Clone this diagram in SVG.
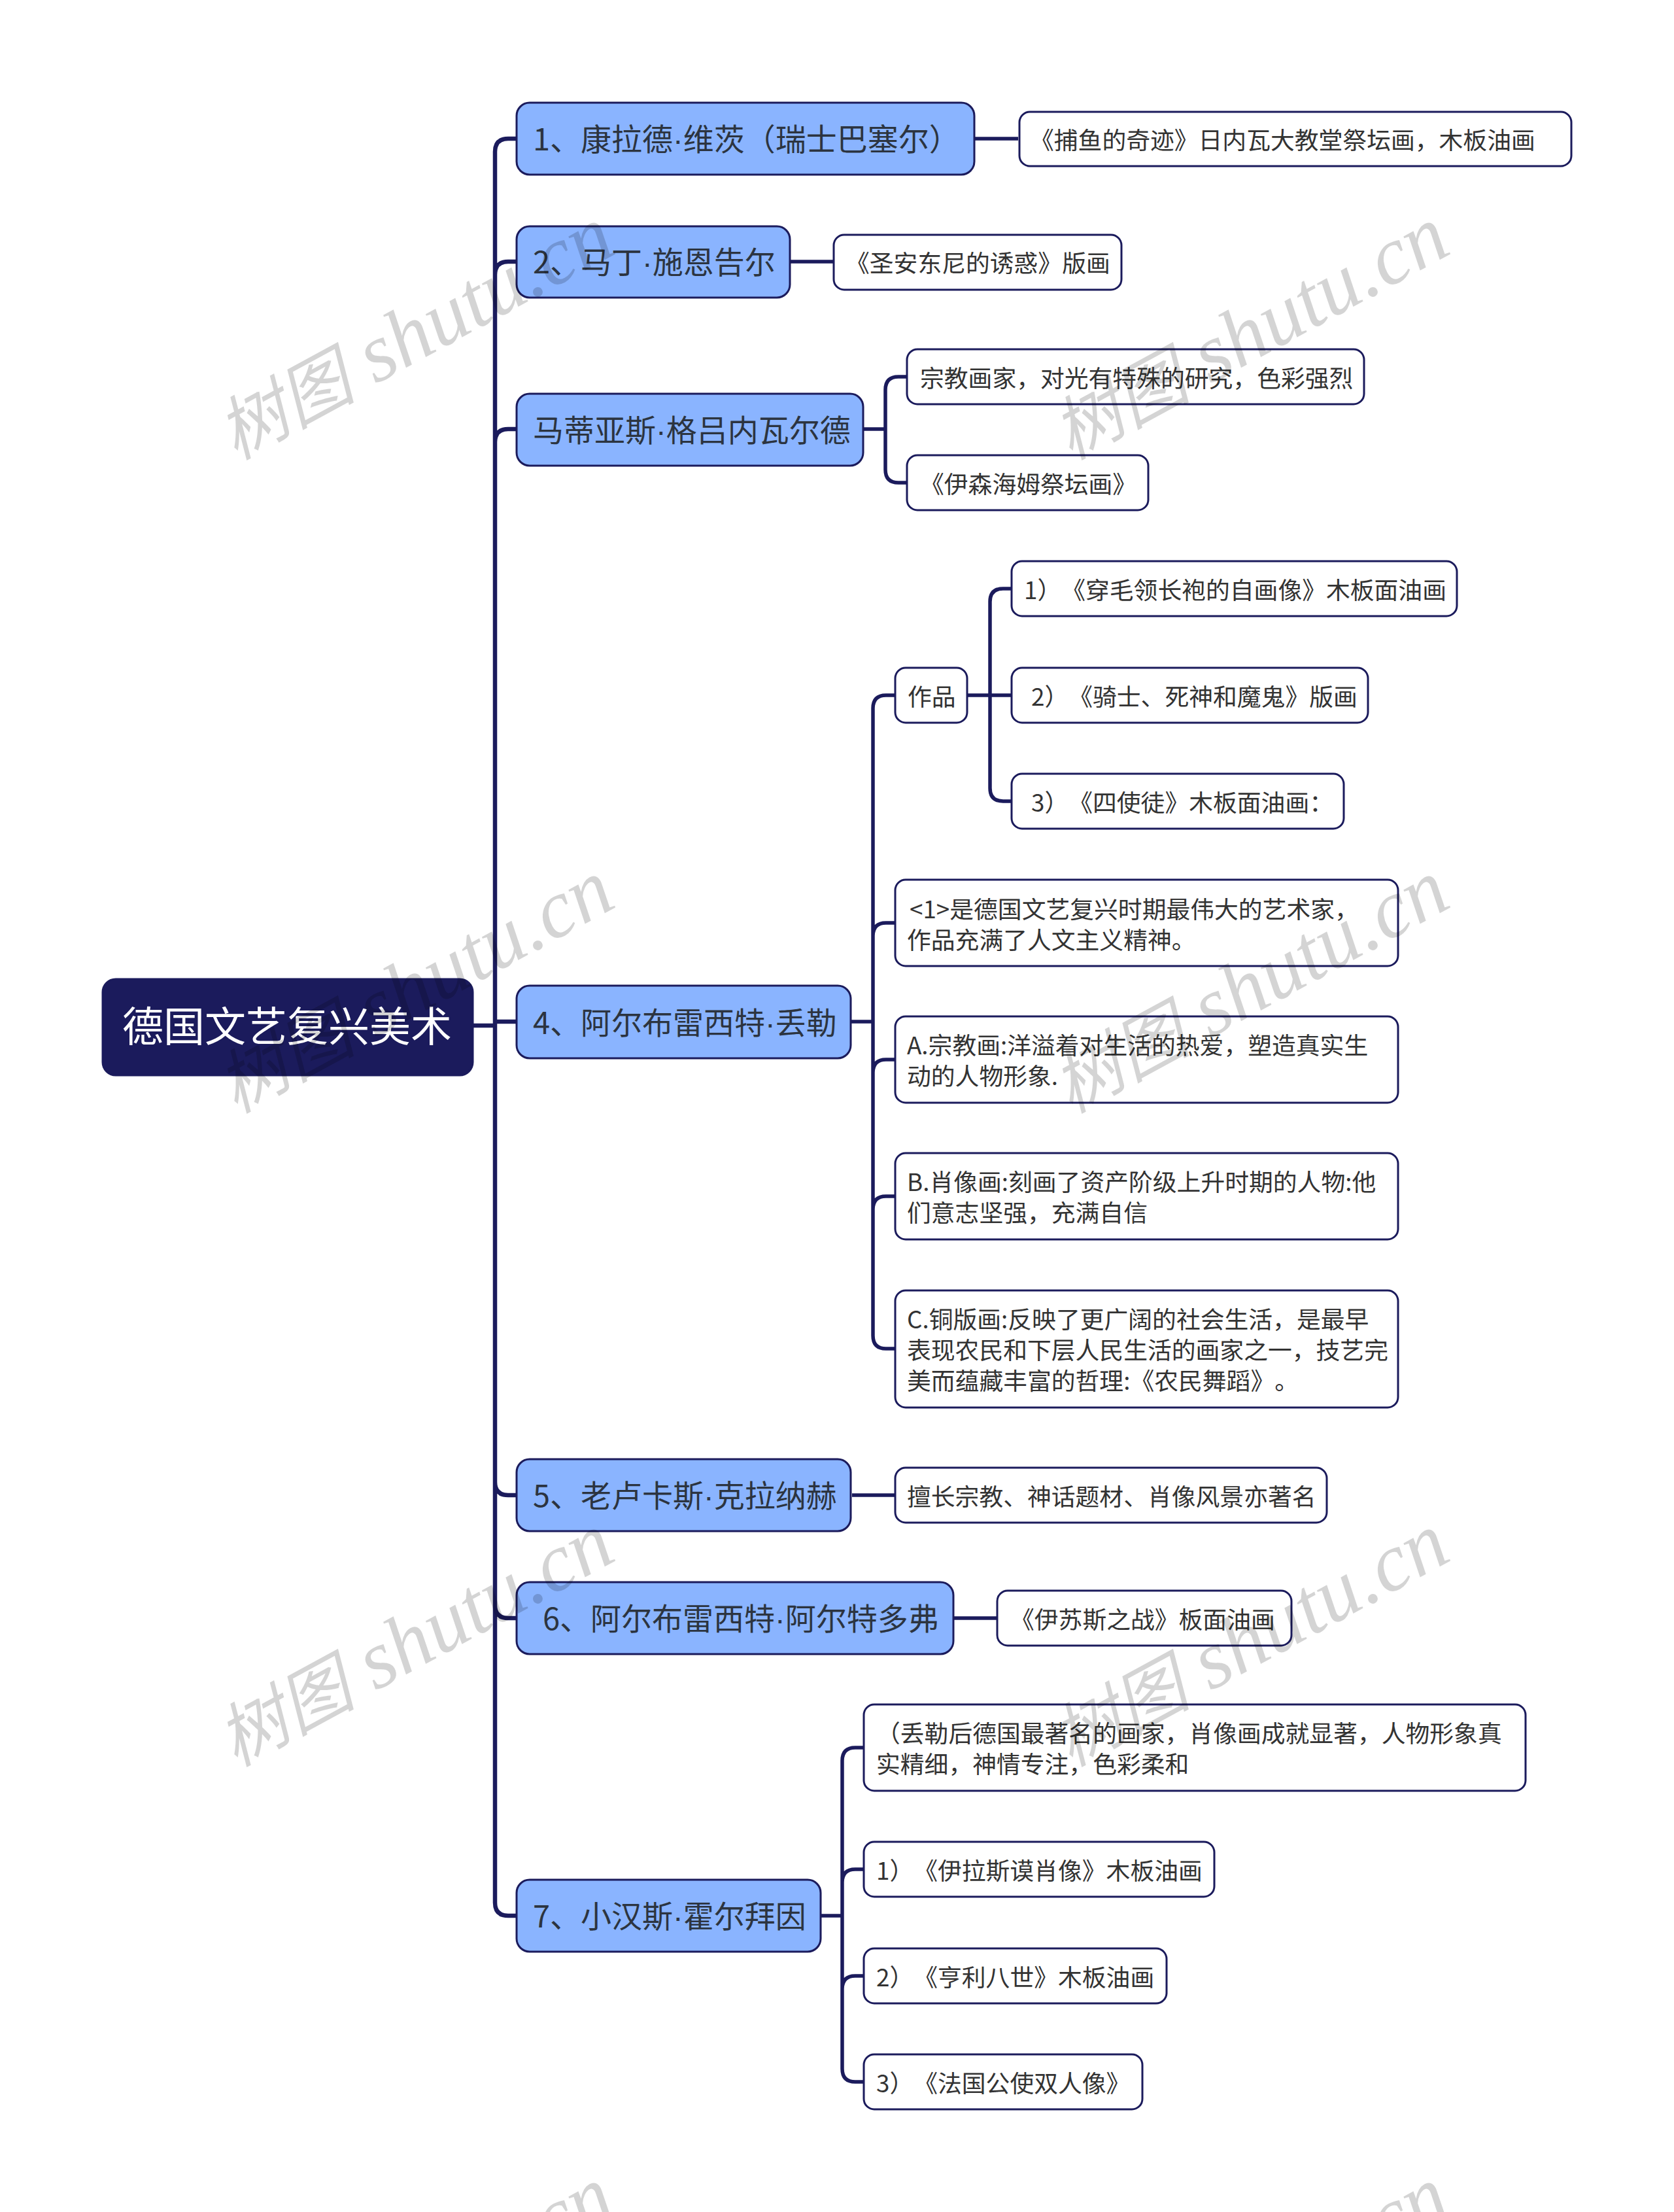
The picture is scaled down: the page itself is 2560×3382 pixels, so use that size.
<svg xmlns="http://www.w3.org/2000/svg" width="2560" height="3382" viewBox="0 0 2560 3382">
<style>
text{font-family:"Noto Sans CJK SC","Noto Sans",sans-serif;white-space:pre;text-spacing-trim:space-all;font-feature-settings:"chws" 0,"palt" 0,"halt" 0}
.dot{font-family:"Liberation Sans",sans-serif}
.root{fill:#1b1b5c;stroke:#1b1b5c;stroke-width:3}
.l1{fill:#8ab4ff;stroke:#1b1b5c;stroke-width:3}
.l2{fill:#fff;stroke:#1b1b5c;stroke-width:3}
.tr{font-size:63px;fill:#fff}
.t1{font-size:47px;fill:#2c3440}
.t2{font-size:36.8px;fill:#333}
.c{fill:none;stroke:#1b1b5c;stroke-width:6.5}
.d{fill:none;stroke:#1b1b5c;stroke-width:5.5}
.wm{font-family:"Liberation Serif","Noto Sans CJK SC",serif;font-style:italic;font-size:126px;fill:#000;fill-opacity:.17}
.wc{font-size:106px}
</style>
<rect width="2560" height="3382" fill="#fff"/>
<g id="connectors">
<path class="c" d="M723 1568H757M790 212H777Q757 212 757 232V2909Q757 2929 777 2929H790M790 400H777Q757 400 757 420M790 656H777Q757 656 757 676M757 1562H790M757 2266Q757 2286 777 2286H790M757 2454Q757 2474 777 2474H790"/>
<path class="d" d="M1490 212H1557M1208 400H1275M1321 656H1354M1387 576H1374Q1354 576 1354 596V718Q1354 738 1374 738H1387M1301 1562H1335M1369 1063H1355Q1335 1063 1335 1083V2042Q1335 2062 1355 2062H1369M1369 1411H1355Q1335 1411 1335 1431M1369 1620H1355Q1335 1620 1335 1640M1369 1829H1355Q1335 1829 1335 1849M1479 1063H1547M1547 900H1534Q1514 900 1514 920V1205Q1514 1225 1534 1225H1547M1303 2286H1369M1458 2474H1525M1255 2929H1288M1320 2672H1308Q1288 2672 1288 2692V3163Q1288 3183 1308 3183H1320M1320 2858H1308Q1288 2858 1288 2878M1320 3021H1308Q1288 3021 1288 3041"/>
</g>
<g id="root"><rect class="root" x="157" y="1497" width="566" height="147" rx="20"/><text class="tr" x="187" y="1592">德国文艺复兴美术</text></g>
<g id="n1"><rect class="l1" x="790" y="157" width="700" height="110" rx="20"/><text class="t1" x="815" y="230">1、康拉德<tspan class="dot">·</tspan>维茨（瑞士巴塞尔）</text></g>
<g id="n1a"><rect class="l2" x="1559" y="171" width="844" height="83" rx="16"/><text class="t2" x="1575" y="228">《捕鱼的奇迹》日内瓦大教堂祭坛画，木板油画</text></g>
<g id="n2"><rect class="l1" x="790" y="346" width="418" height="109" rx="20"/><text class="t1" x="815" y="418">2、马丁<tspan class="dot">·</tspan>施恩告尔</text></g>
<g id="n2a"><rect class="l2" x="1275" y="359" width="440" height="84" rx="16"/><text class="t2" x="1293" y="416">《圣安东尼的诱惑》版画</text></g>
<g id="n3"><rect class="l1" x="790" y="602" width="530" height="110" rx="20"/><text class="t1" x="815" y="675">马蒂亚斯<tspan class="dot">·</tspan>格吕内瓦尔德</text></g>
<g id="n3a"><rect class="l2" x="1387" y="534" width="699" height="84" rx="16"/><text class="t2" x="1407" y="592">宗教画家，对光有特殊的研究，色彩强烈</text></g>
<g id="n3b"><rect class="l2" x="1387" y="696" width="369" height="84" rx="16"/><text class="t2" x="1407" y="754">《伊森海姆祭坛画》</text></g>
<g id="n4"><rect class="l1" x="790" y="1507" width="511" height="111" rx="20"/><text class="t1" x="815" y="1581">4、阿尔布雷西特<tspan class="dot">·</tspan>丢勒</text></g>
<g id="n4w"><rect class="l2" x="1369" y="1021" width="110" height="84" rx="16"/><text class="t2" x="1388" y="1079">作品</text></g>
<g id="n4w1"><rect class="l2" x="1547" y="858" width="681" height="84" rx="16"/><text class="t2" x="1566" y="916">1）《穿毛领长袍的自画像》木板面油画</text></g>
<g id="n4w2"><rect class="l2" x="1547" y="1021" width="545" height="84" rx="16"/><text class="t2" x="1577" y="1079">2）《骑士、死神和魔鬼》版画</text></g>
<g id="n4w3"><rect class="l2" x="1547" y="1183" width="508" height="84" rx="16"/><text class="t2" x="1577" y="1241">3）《四使徒》木板面油画：</text></g>
<g id="n4a"><rect class="l2" x="1369" y="1345" width="769" height="132" rx="16"/><text class="t2" x="1391" y="1404">&lt;1&gt;是德国文艺复兴时期最伟大的艺术家，</text><text class="t2" x="1387" y="1451">作品充满了人文主义精神。</text></g>
<g id="n4b"><rect class="l2" x="1369" y="1554" width="769" height="132" rx="16"/><text class="t2" x="1387" y="1612">A.宗教画:洋溢着对生活的热爱，塑造真实生</text><text class="t2" x="1387" y="1659">动的人物形象.</text></g>
<g id="n4c"><rect class="l2" x="1369" y="1763" width="769" height="132" rx="16"/><text class="t2" x="1387" y="1821">B.肖像画:刻画了资产阶级上升时期的人物:他</text><text class="t2" x="1387" y="1868">们意志坚强，充满自信</text></g>
<g id="n4d"><rect class="l2" x="1369" y="1973" width="769" height="179" rx="16"/><text class="t2" x="1387" y="2031">C.铜版画:反映了更广阔的社会生活，是最早</text><text class="t2" x="1387" y="2078">表现农民和下层人民生活的画家之一，技艺完</text><text class="t2" x="1387" y="2125">美而蕴藏丰富的哲理:《农民舞蹈》。</text></g>
<g id="n5"><rect class="l1" x="790" y="2231" width="511" height="110" rx="20"/><text class="t1" x="815" y="2304">5、老卢卡斯<tspan class="dot">·</tspan>克拉纳赫</text></g>
<g id="n5a"><rect class="l2" x="1369" y="2244" width="660" height="84" rx="16"/><text class="t2" x="1387" y="2302">擅长宗教、神话题材、肖像风景亦著名</text></g>
<g id="n6"><rect class="l1" x="790" y="2419" width="668" height="110" rx="20"/><text class="t1" x="830" y="2492">6、阿尔布雷西特<tspan class="dot">·</tspan>阿尔特多弗</text></g>
<g id="n6a"><rect class="l2" x="1525" y="2432" width="450" height="84" rx="16"/><text class="t2" x="1545" y="2490">《伊苏斯之战》板面油画</text></g>
<g id="n7"><rect class="l1" x="790" y="2874" width="465" height="110" rx="20"/><text class="t1" x="815" y="2947">7、小汉斯<tspan class="dot">·</tspan>霍尔拜因</text></g>
<g id="n7a"><rect class="l2" x="1321" y="2606" width="1012" height="132" rx="16"/><text class="t2" x="1340" y="2664">（丢勒后德国最著名的画家，肖像画成就显著，人物形象真</text><text class="t2" x="1340" y="2711">实精细，神情专注，色彩柔和</text></g>
<g id="n7b"><rect class="l2" x="1321" y="2816" width="536" height="84" rx="16"/><text class="t2" x="1340" y="2874">1）《伊拉斯谟肖像》木板油画</text></g>
<g id="n7c"><rect class="l2" x="1321" y="2979" width="463" height="84" rx="16"/><text class="t2" x="1340" y="3037">2）《亨利八世》木板油画</text></g>
<g id="n7d"><rect class="l2" x="1321" y="3141" width="426" height="84" rx="16"/><text class="t2" x="1340" y="3199">3）《法国公使双人像》</text></g>
<g id="watermarks">
<text class="wm" transform="translate(360 704) rotate(-28.5)"><tspan class="wc">树图</tspan> shutu.cn</text>
<text class="wm" transform="translate(1637 704) rotate(-28.5)"><tspan class="wc">树图</tspan> shutu.cn</text>
<text class="wm" transform="translate(360 1703) rotate(-28.5)"><tspan class="wc">树图</tspan> shutu.cn</text>
<text class="wm" transform="translate(1637 1703) rotate(-28.5)"><tspan class="wc">树图</tspan> shutu.cn</text>
<text class="wm" transform="translate(360 2702) rotate(-28.5)"><tspan class="wc">树图</tspan> shutu.cn</text>
<text class="wm" transform="translate(1637 2702) rotate(-28.5)"><tspan class="wc">树图</tspan> shutu.cn</text>
<text class="wm" transform="translate(360 3701) rotate(-28.5)"><tspan class="wc">树图</tspan> shutu.cn</text>
<text class="wm" transform="translate(1637 3701) rotate(-28.5)"><tspan class="wc">树图</tspan> shutu.cn</text>
</g>
</svg>
